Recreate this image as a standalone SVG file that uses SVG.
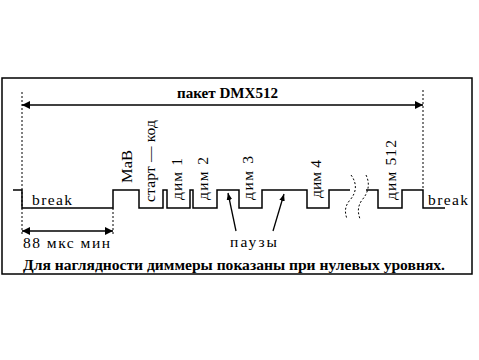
<svg xmlns="http://www.w3.org/2000/svg" width="479" height="360" viewBox="0 0 479 360">
<style>
.ln{fill:none;stroke:#000;stroke-width:1.5}
.dot{fill:none;stroke:#000;stroke-width:1;stroke-dasharray:2 2}
.t{font-family:"Liberation Serif","Times New Roman",serif;font-size:15.5px;fill:#000}
.b{font-family:"Liberation Serif","Times New Roman",serif;font-size:14px;font-weight:bold;fill:#000}
.ar{stroke:#000;stroke-width:1.3;fill:none}
</style>
<defs>
<marker id="ah" viewBox="0 0 10 10" refX="10" refY="5" markerWidth="9" markerHeight="8" markerUnits="userSpaceOnUse" orient="auto-start-reverse">
<path d="M0,0 L10,5 L0,10 z" fill="#000"/>
</marker>
<marker id="ahs" viewBox="0 0 10 10" refX="10" refY="5" markerWidth="7" markerHeight="7" markerUnits="userSpaceOnUse" orient="auto">
<path d="M0,1 L10,5 L0,9 z" fill="#000"/>
</marker>
</defs>
<rect x="0" y="0" width="479" height="360" fill="#fff"/>
<g id="frame"><rect x="2" y="78" width="470" height="196" class="ln"/></g>
<g id="signal">
<polyline class="ln" points="13,190 22,190 22,208 113,208 113,190 139,190 139,208 163,208 163,190 167,190 167,208 190,208 190,190 193,190 193,208 217,208 217,190 239,190 239,208 262,208 262,190 307,190 307,208 329,208 329,190 350,190"/>
<polyline class="ln" points="366,190 378,190 378,208 402,208 402,190 423,190 423,208 445,208"/>
<path class="dot" d="M351,175 C357,183 357,192 350,200 C344,207 345,213 347,219"/>
<path class="dot" d="M366,175 C370,183 369,192 362,200 C357,207 358,213 360,219"/>
</g>
<g id="connectors">
<line class="dot" x1="22" y1="92" x2="22" y2="235"/>
<line class="dot" x1="423" y1="90" x2="423" y2="190"/>
<line class="dot" x1="113" y1="208" x2="113" y2="235"/>
<line class="ar" x1="22" y1="105" x2="423" y2="105" marker-start="url(#ah)" marker-end="url(#ah)"/>
<line class="ar" x1="22" y1="231" x2="113" y2="231" marker-start="url(#ah)" marker-end="url(#ah)"/>
<line class="ar" x1="236" y1="231" x2="228" y2="193" marker-end="url(#ahs)"/>
<line class="ar" x1="273" y1="231" x2="284" y2="194" marker-end="url(#ahs)"/>
</g>
<g id="title"><text class="b" x="177" y="98" textLength="101" lengthAdjust="spacingAndGlyphs">пакет DMX512</text></g>
<g id="break-left"><text class="t" x="32" y="205" textLength="40" lengthAdjust="spacing">break</text></g>
<g id="break-right"><text class="t" x="428" y="205" textLength="40" lengthAdjust="spacing">break</text></g>
<g id="time"><text class="t" x="23" y="248" textLength="87" lengthAdjust="spacing">88 мкс мин</text></g>
<g id="pauses"><text class="t" x="230" y="247" textLength="47" lengthAdjust="spacing">паузы</text></g>
<g id="mab"><text class="t" transform="translate(132,183) rotate(-90)" textLength="33" lengthAdjust="spacingAndGlyphs">MaB</text></g>
<g id="start"><text class="t" transform="translate(155,202) rotate(-90)" textLength="82" lengthAdjust="spacing">старт — код</text></g>
<g id="dim1"><text class="t" transform="translate(182,200) rotate(-90)" textLength="42" lengthAdjust="spacing">дим 1</text></g>
<g id="dim2"><text class="t" transform="translate(208,200) rotate(-90)" textLength="43" lengthAdjust="spacing">дим 2</text></g>
<g id="dim3"><text class="t" transform="translate(253,200) rotate(-90)" textLength="44" lengthAdjust="spacing">дим 3</text></g>
<g id="dim4"><text class="t" transform="translate(321,198) rotate(-90)" textLength="38" lengthAdjust="spacing">дим 4</text></g>
<g id="dim512"><text class="t" transform="translate(396,200) rotate(-90)" textLength="60" lengthAdjust="spacing">дим 512</text></g>
<g id="caption"><text class="b" x="23" y="270" textLength="422" lengthAdjust="spacingAndGlyphs">Для наглядности диммеры показаны при нулевых уровнях.</text></g>
</svg>
